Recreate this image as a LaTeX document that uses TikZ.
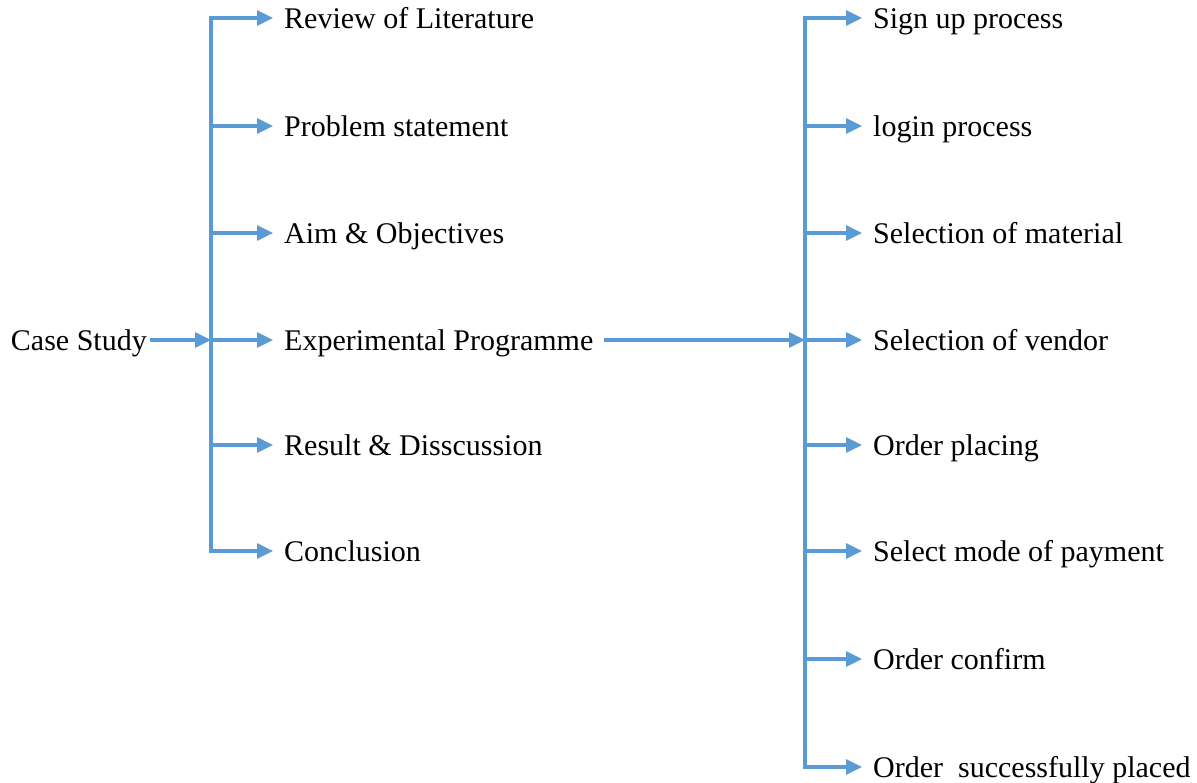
\documentclass[tikz,border=0pt]{standalone}
\usepackage{fontspec}
\setmainfont{Liberation Serif}
\usetikzlibrary{arrows.meta}
\definecolor{branchblue}{RGB}{91,155,213}

\begin{document}
\begin{tikzpicture}[x=1pt,y=1pt,
  arr/.style={branchblue,line width=3.2pt,-{Triangle[length=16pt,width=15pt]}},
  lbl/.style={inner xsep=11pt,inner ysep=0pt,text height=20pt,text depth=0pt,anchor=west,font=\fontsize{30}{36}\selectfont}]

\useasboundingbox (0,0) rectangle (1197,-782);

% case study node
\node[lbl,anchor=east,inner xsep=3pt] (cs) at (150,-340) {Case Study};

% left junction
\coordinate (lj) at (211,-340);
\draw[arr] (cs.east) -- (lj);

% left column nodes
\node[lbl] (lit) at (273,-18) {Review of Literature};
\node[lbl] (prob) at (273,-126) {Problem statement};
\node[lbl] (aim) at (273,-233) {Aim \& Objectives};
\node[lbl] (exp) at (273,-340) {Experimental Programme};
\node[lbl] (res) at (273,-445) {Result \& Disscussion};
\node[lbl] (con) at (273,-551) {Conclusion};

\draw[arr] (lj) |- (lit.west);
\draw[arr] (lj) |- (con.west);
\draw[arr] (lj |- prob.west) -- (prob.west);
\draw[arr] (lj |- aim.west) -- (aim.west);
\draw[arr] (lj) -- (exp.west);
\draw[arr] (lj |- res.west) -- (res.west);

% right junction
\coordinate (rj) at (805,-340);
\draw[arr] (exp.east) -- (rj);

% right column nodes
\node[lbl] (sign) at (862,-18) {Sign up process};
\node[lbl] (login) at (862,-126) {login process};
\node[lbl] (mat) at (862,-233) {Selection of material};
\node[lbl] (vend) at (862,-340) {Selection of vendor};
\node[lbl] (order) at (862,-445) {Order placing};
\node[lbl] (pay) at (862,-551) {Select mode of payment};
\node[lbl] (confirm) at (862,-659) {Order confirm};
\node[lbl] (placed) at (862,-767) {Order\ \ successfully placed};

\draw[arr] (rj) |- (sign.west);
\draw[arr] (rj) |- (placed.west);
\draw[arr] (rj |- login.west) -- (login.west);
\draw[arr] (rj |- mat.west) -- (mat.west);
\draw[arr] (rj) -- (vend.west);
\draw[arr] (rj |- order.west) -- (order.west);
\draw[arr] (rj |- pay.west) -- (pay.west);
\draw[arr] (rj |- confirm.west) -- (confirm.west);

\end{tikzpicture}
\end{document}
